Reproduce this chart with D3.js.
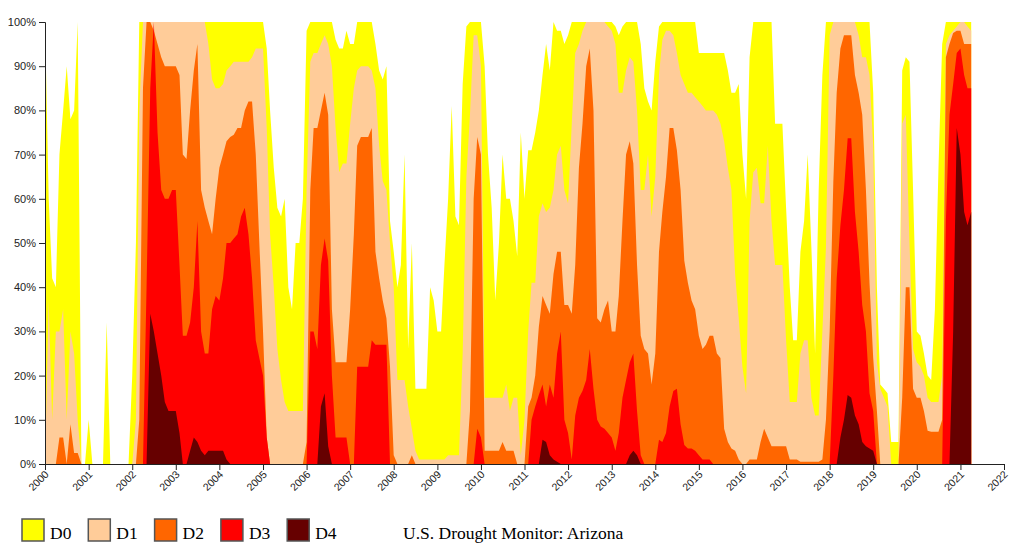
<!DOCTYPE html>
<html>
<head>
<meta charset="utf-8">
<script src="https://cdn.jsdelivr.net/npm/d3@7"></script>
<style>
  body { margin: 0; background: #fff; }
  .axis text { font-family: "Liberation Sans", Arial, sans-serif; font-size: 11px; fill: #222; }
  .axis path, .axis line { stroke: #222; }
  .x.axis text { font-size: 10.5px; }
  .legend text { font-family: "Liberation Serif", "Times New Roman", serif; font-size: 17.5px; fill: #000; }
</style>
</head>
<body>
<script>
// monthly samples (1st of month), Jan 2000 .. Apr 2021, cumulative % area
var firstMonth = new Date(2000, 0, 1),
    lastMonth = new Date(2021, 3, 1);

var d0 = [
  100,60,42,40,70,80,90,78,80,100,0,0,            // 2000
  10,0,0,0,0,32,0,0,0,0,0,0,                      // 2001
  20,50,100,100,100,100,100,100,100,100,100,100,  // 2002
  100,100,100,100,100,100,100,100,100,100,100,100,// 2003
  100,100,100,100,100,100,100,100,100,100,100,100,// 2004
  100,94,80,67,58,56,60,40,35,50,50,60,           // 2005
  98,100,100,100,100,100,100,100,96,94,94,98,     // 2006
  95,95,100,100,100,100,100,95,89,87,90,55,       // 2007
  48,40,45,70,26,50,17,17,17,17,40,37,            // 2008
  30,30,45,60,81,56,54,86,99,100,100,100,         // 2009
  100,90,70,58,37,50,70,60,60,55,47,75,           // 2010
  60,71,71,75,80,88,95,89,100,98,98,95,           // 2011
  97,100,100,100,100,100,100,100,100,100,100,100, // 2012
  100,99,97,99,100,100,100,100,95,85,82,80,       // 2013
  91,99,100,100,100,100,100,100,100,100,100,100,  // 2014
  93,93,93,93,93,93,93,93,89,84,84,86,            // 2015
  70,60,92,100,100,100,100,100,100,77,77,77,      // 2016
  58,40,28,28,48,55,70,49,25,62,88,100,           // 2017
  100,100,100,100,100,100,100,100,100,100,100,100,// 2018
  84,40,18,17,16,5,5,5,89,92,91,62,               // 2019
  30,29,25,20,19,35,67,95,100,100,100,100,        // 2020
  100,100,100,100                                 // 2021
];

var d1 = [
  0,37,10,30,30,35,10,30,25,10,0,0,               // 2000
  0,0,0,0,0,0,0,0,0,0,0,0,                        // 2001
  0,10,80,100,100,100,100,100,100,100,100,100,    // 2002
  100,100,100,100,100,100,100,100,100,95,87,85,   // 2003
  85,86,89,90,91,91,91,91,91,92,94,94,            // 2004
  94,76,52,40,26,19,14,12,12,12,12,12,            // 2005
  62,91,93,93,95,97,95,90,76,66,68,68,            // 2006
  77,85,89,90,90,90,89,85,72,64,62,50,            // 2007
  40,19,19,19,13,8,3,1,1,1,1,1,                   // 2008
  1,1,1,2,2,2,2,25,65,79,97,97,                   // 2009
  90,15,15,15,15,15,15,18,12,15,15,2,             // 2010
  10,30,41,41,56,59,57,58,62,70,72,62,            // 2011
  59,77,93,95,98,100,100,100,100,100,100,99,      // 2012
  98,95,84,84,89,92,91,80,62,62,70,56,            // 2013
  65,88,96,98,98,97,93,88,86,84,84,83,            // 2014
  82,81,80,80,80,79,77,73,67,62,43,33,            // 2015
  22,16,55,66,67,59,59,72,55,45,45,45,            // 2016
  28,14,14,14,25,28,28,15,11,11,30,49,            // 2017
  97,100,100,100,100,100,100,100,97,92,92,88,     // 2018
  72,23,17,15,13,0,0,0,77,79,50,26,               // 2019
  23,22,20,15,14,14,14,20,95,97,98,99,            // 2020
  100,100,99,98                                   // 2021
];

var d2 = [
  0,0,0,0,6,6,0,9,2.5,2.5,0,0,                    // 2000
  0,0,0,0,0,0,0,0,0,0,0,0,                        // 2001
  0,0,10,85,100,100,98,95,92,90,90,90,            // 2002
  90,88,70,69,80,89,95,62,58,55,52,60,            // 2003
  67,70,73,74,74.5,76,76,80,82,82,70,50,          // 2004
  30,6,0,0,0,0,0,0,0,0,0,0,                       // 2005
  5,62,76,76,80,84,79,35,23,23,23,23,             // 2006
  35,52,72,74,74,74,76,48,42,37,33,22,            // 2007
  2,0,0,0,0,2,0,0,0,0,0,0,                        // 2008
  0,0,0,0,0,0,0,0,0,12,60,74,                     // 2009
  70,3,3,3,3,3,5,3,3,3,0,0,                       // 2010
  0,13,15,20,31,38,36,34,43,48,48,36,             // 2011
  36,34,45,67,77,90,94,80,33,32,35,37,            // 2012
  30,30,38,55,70,73,68,45,29,26,25,18,            // 2013
  25,48,57,65,76,76,71,62,46,41,37,35,            // 2014
  29,26,27,29,29,25,24,8,5,3.5,3,1,               // 2015
  0,0,1,1,1,5,8,6,4,4,4,4,                        // 2016
  4,1,1,1,0.5,0.5,0.5,0.5,0.5,0.5,1,10,           // 2017
  30,64,84,94,97,97,97,88,84,79,62,41,            // 2018
  24,12,0,0,0,0,0,0,15,40,40,17,                  // 2019
  15,15,12,7.5,7.3,7.3,7.3,10,92,95,97.5,98,      // 2020
  98,95,95,95                                     // 2021
];

var d3v = [
  0,0,0,0,0,0,0,0,0,0,0,0,                        // 2000
  0,0,0,0,0,0,0,0,0,0,0,0,                        // 2001
  0,0,0,0,40,85,100,75,62,60,60,62,               // 2002
  62,45,29,29,32,40,55,30,25,25,35,38,            // 2003
  37,42,50,50,51,52,56,58,52,42,28,24,            // 2004
  20,6,0,0,0,0,0,0,0,0,0,0,                       // 2005
  0,30,30,26,45,51,46,20,6,6,6,6,                 // 2006
  0,0,22,22,22,22,28,27,27,27,27,0,               // 2007
  0,0,0,0,0,0,0,0,0,0,0,0,                        // 2008
  0,0,0,0,0,0,0,0,0,0,0,8,                        // 2009
  6,0,0,0,0,0,0,0,0,0,0,0,                        // 2010
  0,0,10,13,15.6,18,13,18,15,25,30,10,            // 2011
  7,1,11,15,16.5,19,26,17,10,8.5,8,7,             // 2012
  6,3,7,15,19,23,25,12,2,0,0,0,                   // 2013
  0,5.5,5,7,13,16.5,17,9,4.3,3.5,3.5,3,           // 2014
  2,1,1,1,0,0,0,0,0,0,0,0,                        // 2015
  0,0,0,0,0,0,0,0,0,0,0,0,                        // 2016
  0,0,0,0,0,0,0,0,0,0,0,0,                        // 2017
  0,20,42,54,62,73.7,73.7,57,48,36,30,16,         // 2018
  12,0,0,0,0,0,0,0,0,0,0,0,                       // 2019
  0,0,0,0,0,0,0,0,55,79,86,93,                    // 2020
  94,88,85,85                                     // 2021
];

var d4 = [
  0,0,0,0,0,0,0,0,0,0,0,0,                        // 2000
  0,0,0,0,0,0,0,0,0,0,0,0,                        // 2001
  0,0,0,0,0,34,30,25,20,14,12,12,                 // 2002
  12,7,0,0,3,6,5,3,2,3,3,3,                       // 2003
  3,3,1,0,0,0,0,0,0,0,0,0,                        // 2004
  0,0,0,0,0,0,0,0,0,0,0,0,                        // 2005
  0,0,0,0,13,16,4,0,0,0,0,0,                      // 2006
  0,0,0,0,0,0,0,0,0,0,0,0,                        // 2007
  0,0,0,0,0,0,0,0,0,0,0,0,                        // 2008
  0,0,0,0,0,0,0,0,0,0,0,0,                        // 2009
  0,0,0,0,0,0,0,0,0,0,0,0,                        // 2010
  0,0,0,0,0,5.5,5,2,1,0.5,0,0,                    // 2011
  0,0,0,0,0,0,0,0,0,0,0,0,                        // 2012
  0,0,0,0,0,2,3,2,0,0,0,0,                        // 2013
  0,0,0,0,0,0,0,0,0,0,0,0,                        // 2014
  0,0,0,0,0,0,0,0,0,0,0,0,                        // 2015
  0,0,0,0,0,0,0,0,0,0,0,0,                        // 2016
  0,0,0,0,0,0,0,0,0,0,0,0,                        // 2017
  0,0,0,6,10,15.6,15,11,9,5,4,3.5,                // 2018
  3,0,0,0,0,0,0,0,0,0,0,0,                        // 2019
  0,0,0,0,0,0,0,0,0,0,30,76,                      // 2020
  70,57,54,57                                     // 2021
];

var categories = ['D0', 'D1', 'D2', 'D3', 'D4'];
var colors = ['#ffff00', '#ffcc99', '#ff6600', '#ff0000', '#660000'];
var series = [d0, d1, d2, d3v, d4];
var title = 'U.S. Drought Monitor: Arizona';

var width = 1024,
    height = 552,
    plotLeft = 45, plotRight = 1004, plotTop = 22, plotBottom = 464;

var months = d3.timeMonth.range(firstMonth, d3.timeMonth.offset(lastMonth, 1));

var svg = d3.select('body').append('svg')
  .attr('width', width)
  .attr('height', height);

var x = d3.scaleTime()
  .domain([new Date(2000, 0, 1), new Date(2022, 0, 1)])
  .range([plotLeft, plotRight]);

var y = d3.scaleLinear()
  .domain([0, 100])
  .range([plotBottom, plotTop]);

var area = d3.area()
  .x(function(d) { return x(d.date); })
  .y0(y(0))
  .y1(function(d) { return y(d.value); });

// back to front: D0 .. D4
series.forEach(function(vals, i) {
  var pts = months.map(function(m, j) { return { date: m, value: vals[j] }; });
  svg.append('path')
    .datum(pts)
    .attr('fill', colors[i])
    .attr('d', area);
});

svg.append('g')
  .attr('class', 'y axis')
  .attr('transform', 'translate(' + plotLeft + ',0)')
  .call(d3.axisLeft(y).tickValues(d3.range(0, 101, 10)).tickFormat(function(d) { return d + '%'; }));

var xAxis = svg.append('g')
  .attr('class', 'x axis')
  .attr('transform', 'translate(0,' + plotBottom + ')')
  .call(d3.axisBottom(x).ticks(d3.timeYear.every(1)).tickFormat(d3.timeFormat('%Y')));

// rotated year labels, ending just right of the tick
xAxis.selectAll('text')
  .attr('y', 0)
  .attr('dy', 0)
  .attr('text-anchor', 'end')
  .attr('transform', 'translate(4,11) rotate(-45)');

var legend = svg.append('g').attr('class', 'legend');

legend.selectAll('rect')
  .data(categories)
  .enter()
  .append('rect')
  .attr('x', function(d, i) { return 22 + i * 66.3; })
  .attr('y', 519)
  .attr('width', 22)
  .attr('height', 22)
  .attr('fill', function(d, i) { return colors[i]; })
  .attr('stroke', '#555')
  .attr('stroke-width', 1.5);

legend.selectAll('text.lab')
  .data(categories)
  .enter()
  .append('text')
  .attr('class', 'lab')
  .attr('x', function(d, i) { return 50 + i * 66.3; })
  .attr('y', 539)
  .text(function(d) { return d; });

legend.append('text')
  .attr('x', 403)
  .attr('y', 539)
  .text(title);
</script>
</body>
</html>
